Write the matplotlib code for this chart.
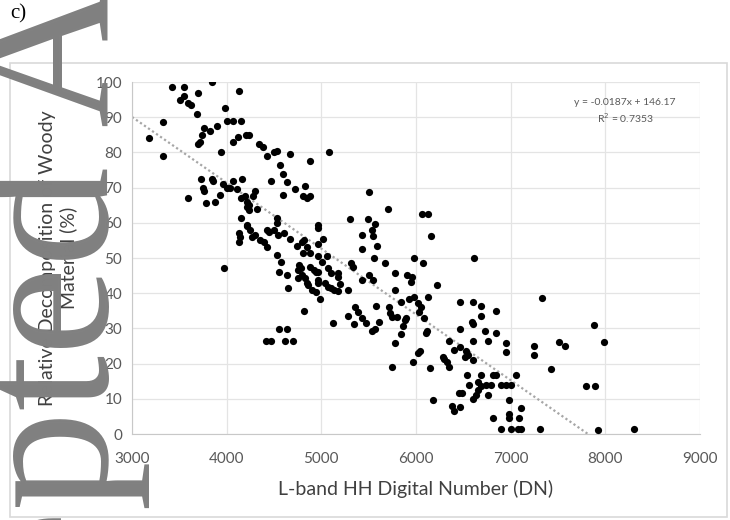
import numpy as np
import matplotlib.pyplot as plt
from matplotlib.patches import Rectangle

# L-band HH digital number vs relative decomposition of woody material (%)
dn = [3420, 3550, 3850, 3700, 4130, 3510, 3550, 3590, 3620, 3980, 3690, 3330, 4000, 4070, 4150,
      3900, 3760, 3820, 3740, 4120, 4200, 4240, 3180, 3700, 3720, 4070, 4340, 4380, 3330, 3940,
      4430, 4500, 4530, 4670, 4880, 5080, 4560, 4600, 4470, 4640, 4720, 4830, 4600, 4810, 4850, 4880,
      3730, 3750, 3760, 3840, 3860, 3590, 3780, 3880, 3930, 3960, 4000, 4030, 4070, 4160, 4110,
      4150, 4190, 4220, 4240, 4280, 4300, 4210, 4240, 4320, 4150, 4210, 4220, 4250, 4130, 4130,
      4140, 4270, 4300,
      4430, 4450, 4500, 4530, 4530, 4610, 4670, 4740, 4800, 4820, 4960, 4970, 5020, 4960, 4350,
      4390, 4430, 4545, 5300, 5430, 5430, 4810, 4850, 4880,
      5500, 5700, 6060, 6130, 5490, 5570, 5540, 5550, 5590, 6160,
      5060, 4960, 5010, 4530, 4570, 4760, 4780, 4750, 4880, 4920, 4940, 4960, 5070, 5100, 5180,
      5180, 4550, 4640, 4750, 4800, 4830, 4850, 4860, 4960, 4970, 5040, 5070, 5100, 5130, 5200,
      5180, 5280, 4900, 4940, 4990, 4650, 4820, 5310, 5330, 5430, 5360, 5390, 5280,
      5120, 5340, 5470, 5530, 5570, 5610, 5430,
      5560, 5980, 6610, 5670, 6070, 5500, 5550, 5780, 5910, 5960, 5950, 6220, 5780, 5930, 5980,
      6020, 6050, 6130, 5580, 5710, 5730, 5750, 5800, 5890, 5840, 6030, 6080, 5880, 5860, 5840,
      5780, 5750, 6110, 6120, 6020, 6040, 5970, 6150, 6180,
      6470, 6600, 6690, 6690, 6840, 6590, 6600, 6470, 6725, 6850, 6345, 6600, 6760, 6950, 6950,
      6400, 6470, 6525, 6545, 6515, 6600, 6290, 6300, 6325, 6345, 6535, 6685, 6810, 6840, 7055,
      6565, 6660, 6685, 6735, 6790, 6895, 6950, 7000, 6650, 6630, 6600, 6765, 6450, 6490, 6980,
      6385, 6405, 6470, 7105, 6980, 6980, 7085, 6810, 6895, 7000, 7075, 7105, 7315, 7920, 8300,
      7330, 7425, 7245, 7245, 7510, 7570, 7880, 7985, 7795, 7890,
      4420, 4470, 4620, 4700, 4550, 4640, 3970]

woody = [98.5, 98.5, 100, 97, 97.5, 95, 96, 94, 93.5, 92.5, 91, 88.5, 89, 89, 89,
         87.5, 87, 86, 85, 84.5, 85, 85, 84, 82.5, 83, 83, 82.5, 81.5, 79, 80,
         79, 80, 80.5, 79.5, 77.5, 80, 76.5, 74, 72, 71.5, 69.5, 70.5, 68, 67.5, 67, 67.5,
         72.5, 70, 69, 72.5, 72, 67, 65.5, 66, 68, 71, 70, 70, 72, 72.5, 69.5,
         67, 67.5, 66, 65, 67.5, 69, 64.5, 63.5, 64, 61.5, 59.5, 59, 58, 57, 54.5,
         56, 56, 56.5,
         58, 57.5, 58, 60, 61.5, 57, 55.5, 53.5, 54.5, 55, 58.5, 59.5, 55.5, 54, 55,
         54.5, 53, 56.5, 61, 56.5, 52.5, 51.5, 53, 51.5,
         68.8, 63.9, 62.5, 62.5, 61, 59.7, 58, 56.3, 53.4, 56.3,
         50.6, 50.6, 48.9, 50.9, 48.9, 48, 47.2, 46.6, 47.4, 46.6, 46, 46, 47.2, 45.7, 45.7,
         44.6, 46, 45.2, 44.3, 45.2, 44.3, 42.9, 42.3, 43.8, 42.9, 42.9, 41.8, 41.5, 40.9, 42.6,
         40.6, 40.9, 40.9, 40.3, 38.4, 41.5, 34.9, 48.6, 47.4, 43.8, 36.1, 34.7, 33.5,
         31.5, 31.2, 31.5, 29.3, 29.8, 31.8, 33,
         50, 50, 50, 48.6, 48.6, 45.2, 43.8, 45.7, 45.2, 44.6, 43.2, 42.3, 40.9, 38.4, 38.9,
         37.2, 36.1, 38.9, 36.4, 36.1, 34.4, 33.2, 33.2, 33, 37.5, 34.7, 33, 32.5, 30.7, 28.4,
         25.9, 19, 28.7, 29.3, 23, 23.6, 20.5, 18.8, 9.7,
         37.5, 37.5, 36.4, 33.5, 34.9, 31.8, 31.2, 29.8, 29.3, 28.7, 26.4, 26.4, 26.4, 25.9, 23.3,
         23.9, 24.7, 23.6, 22.4, 21.9, 21, 21.9, 21.3, 20.5, 19, 16.8, 16.8, 16.8, 16.8, 16.8,
         13.9, 14.8, 13.6, 13.9, 13.9, 13.9, 13.9, 13.9, 12.5, 11.1, 9.9, 11.1, 11.6, 11.6, 9.7,
         8, 6.5, 7.7, 7.4, 5.7, 4.5, 4.5, 4.5, 1.4, 1.4, 1.4, 1.4, 1.4, 1.1, 1.4,
         38.6, 18.5, 25, 22.4, 26.1, 25, 31, 26.1, 13.6, 13.6,
         26.4, 26.4, 26.4, 26.4, 29.8, 29.8, 47.2]

x_ticks = [3000, 4000, 5000, 6000, 7000, 8000, 9000]
y_ticks = [0, 10, 20, 30, 40, 50, 60, 70, 80, 90, 100]
slope, intercept = -0.0187, 146.17
r2 = 0.7353

plt.rcParams['font.family'] = ['Lato', 'DejaVu Sans']

fig = plt.figure(figsize=(7.3, 5.2), dpi=100)

# chart border (Excel style)
fig.patches.append(Rectangle((10 / 730, 1 - 517 / 520), 717 / 730, 454 / 520,
                             transform=fig.transFigure, fill=False,
                             edgecolor='#d9d9d9', lw=1.2))

ax = fig.add_axes([132 / 730, 86 / 520, 568 / 730, 352 / 520])

ax.scatter(dn, woody, s=27, c='black', linewidths=0, zorder=3)

xt = np.array([3000, -intercept / slope])
ax.plot(xt, slope * xt + intercept, color='#a6a6a6', lw=1.6,
        ls=(0, (1, 1.2)), zorder=2)

ax.set_xlim(3000, 9000)
ax.set_ylim(0, 100)
ax.set_xticks(x_ticks)
ax.set_yticks(y_ticks)
ax.grid(color='#e4e4e4', lw=0.9)
ax.set_axisbelow(True)
for s in ['top', 'right']:
    ax.spines[s].set_visible(False)
for s in ['left', 'bottom']:
    ax.spines[s].set_color('#c8c8c8')
ax.tick_params(length=0, labelsize=11, labelcolor='#595959')
ax.tick_params(axis='x', pad=13)
ax.tick_params(axis='y', pad=7)

ax.set_xlabel('L-band HH Digital Number (DN)', fontsize=14, color='#404040', labelpad=10)
ax.set_ylabel('Relative Decomposition of Woody\nMaterial (%)', fontsize=14,
              color='#404040', labelpad=13, linespacing=1.25)

ax.text(0.868, 0.916, f'y = {slope}x + {intercept}\nR$^2$ = {r2}', transform=ax.transAxes,
        ha='center', va='center', fontsize=7.5, color='#595959', linespacing=1.3)

fig.text(10 / 730, 1 - 14 / 520, 'c)', family='Liberation Serif', fontsize=15,
         va='center', ha='left')

# watermark, reads bottom to top along the left margin
fig.text(108 / 730, 1 - 921 / 520, 'Accepted Article', rotation=90, rotation_mode='anchor',
         ha='left', va='baseline', fontsize=144, family='Liberation Serif',
         color='#808080', zorder=10)

fig.savefig('out.png', dpi=100)
